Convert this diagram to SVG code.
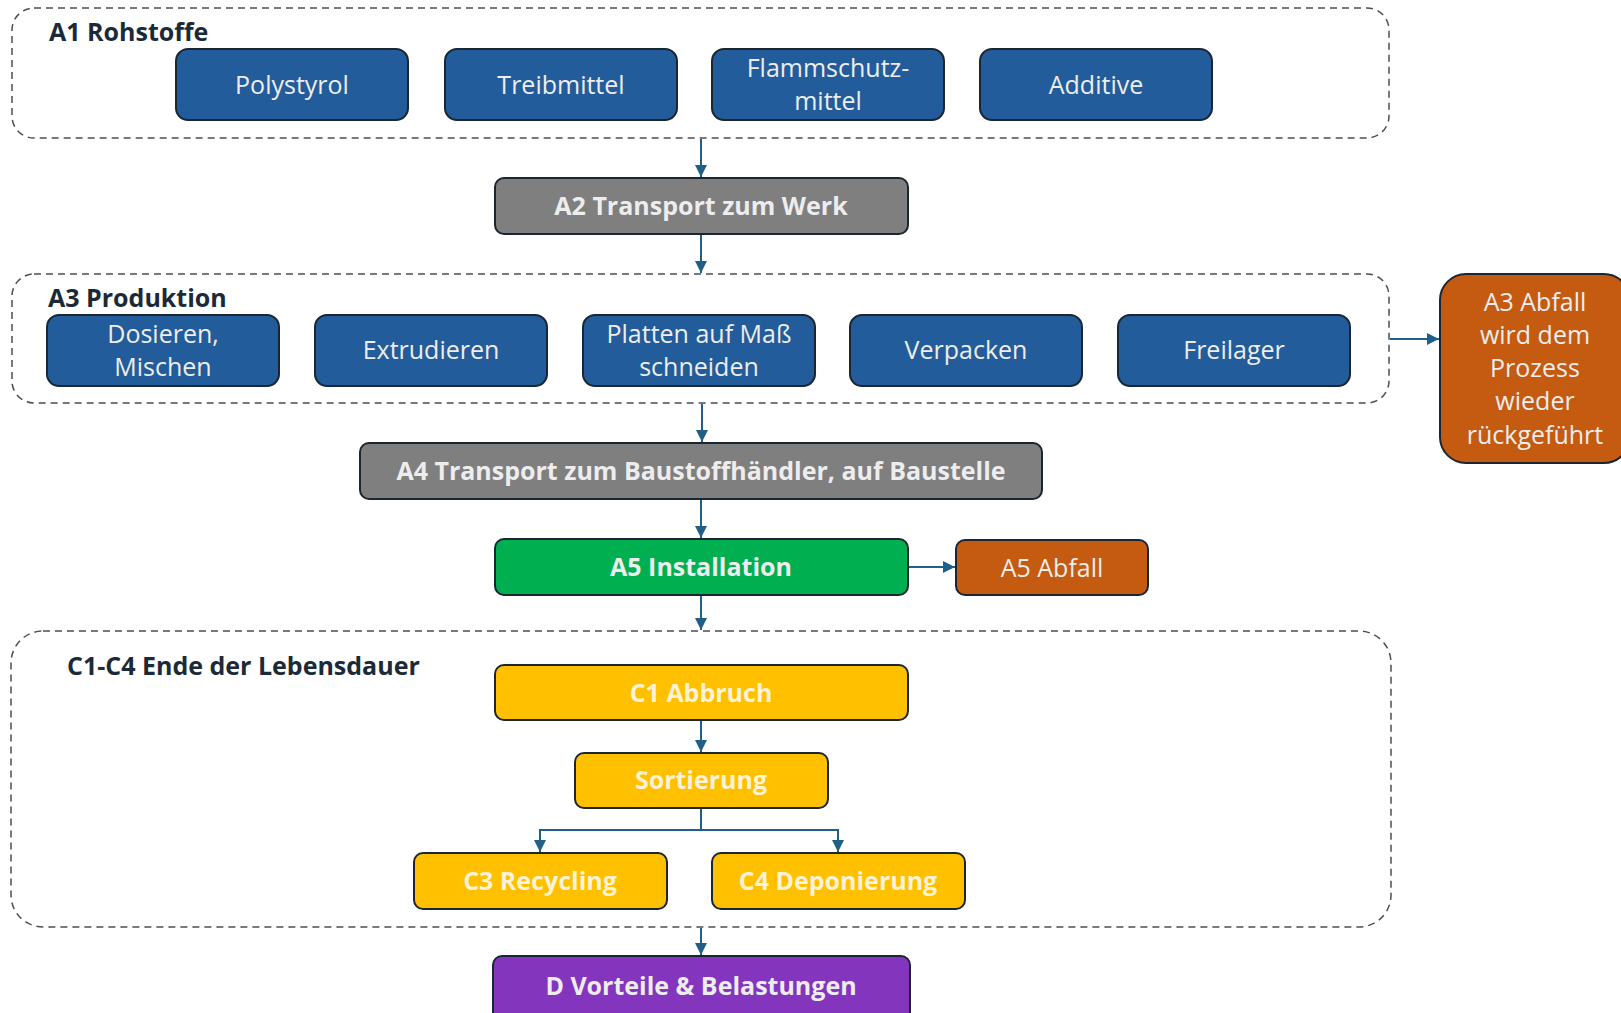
<svg xmlns="http://www.w3.org/2000/svg" width="1621" height="1013" viewBox="0 0 1621 1013">
  <defs>
    <marker id="arrow" viewBox="0 0 10 10" refX="10" refY="5" markerWidth="12" markerHeight="12" markerUnits="userSpaceOnUse" orient="auto">
      <path d="M0,0 L10,5 L0,10 z" fill="#1F5F88"/>
    </marker>
    <style>
      .group { fill: none; stroke: #4a4f55; stroke-width: 1.5; stroke-dasharray: 7 5; }
      .title { font-family: "Open Sans", "Noto Sans", sans-serif; font-weight: 700; font-size: 25px; fill: #1B2A38; }
      .box { stroke: #1A2733; stroke-width: 2; }
      .blue { fill: #235C9A; }
      .gray { fill: #7F7F7F; }
      .green { fill: #00B050; }
      .orange { fill: #C55A11; }
      .yellow { fill: #FFC000; }
      .purple { fill: #8435BE; }
      .lbl { font-family: "Open Sans", "Noto Sans", sans-serif; font-size: 25px; fill: #EDEDED; text-anchor: middle; }
      .bold { font-weight: 700; }
      .cream { fill: #FFF2D6; }
      .conn { fill: none; stroke: #1F5F88; stroke-width: 2; }
    </style>
  </defs>

  <!-- Stage containers -->
  <g id="group-a1">
    <rect class="group" x="12" y="8" width="1377" height="130" rx="22"/>
    <text class="title" x="49" y="41">A1 Rohstoffe</text>
  </g>
  <g id="group-a3">
    <rect class="group" x="12" y="274" width="1377" height="129" rx="22"/>
    <text class="title" x="48" y="307">A3 Produktion</text>
  </g>
  <g id="group-c">
    <rect class="group" x="11" y="631" width="1380" height="296" rx="32"/>
    <text class="title" x="67" y="675">C1-C4 Ende der Lebensdauer</text>
  </g>

  <!-- A1 raw materials -->
  <g id="polystyrol">
    <rect class="box blue" x="176" y="49" width="232" height="71" rx="12"/>
    <text class="lbl" x="292" y="94">Polystyrol</text>
  </g>
  <g id="treibmittel">
    <rect class="box blue" x="445" y="49" width="232" height="71" rx="12"/>
    <text class="lbl" x="561" y="94">Treibmittel</text>
  </g>
  <g id="flammschutzmittel">
    <rect class="box blue" x="712" y="49" width="232" height="71" rx="12"/>
    <text class="lbl" x="828" y="77">Flammschutz-</text>
    <text class="lbl" x="828" y="110">mittel</text>
  </g>
  <g id="additive">
    <rect class="box blue" x="980" y="49" width="232" height="71" rx="12"/>
    <text class="lbl" x="1096" y="94">Additive</text>
  </g>

  <!-- A2 -->
  <g id="a2">
    <rect class="box gray" x="495" y="178" width="413" height="56" rx="9"/>
    <text class="lbl bold" x="701" y="215">A2 Transport zum Werk</text>
  </g>

  <!-- A3 production steps -->
  <g id="dosieren">
    <rect class="box blue" x="47" y="315" width="232" height="71" rx="12"/>
    <text class="lbl" x="163" y="343">Dosieren,</text>
    <text class="lbl" x="163" y="376">Mischen</text>
  </g>
  <g id="extrudieren">
    <rect class="box blue" x="315" y="315" width="232" height="71" rx="12"/>
    <text class="lbl" x="431" y="359">Extrudieren</text>
  </g>
  <g id="platten">
    <rect class="box blue" x="583" y="315" width="232" height="71" rx="12"/>
    <text class="lbl" x="699" y="343">Platten auf Maß</text>
    <text class="lbl" x="699" y="376">schneiden</text>
  </g>
  <g id="verpacken">
    <rect class="box blue" x="850" y="315" width="232" height="71" rx="12"/>
    <text class="lbl" x="966" y="359">Verpacken</text>
  </g>
  <g id="freilager">
    <rect class="box blue" x="1118" y="315" width="232" height="71" rx="12"/>
    <text class="lbl" x="1234" y="359">Freilager</text>
  </g>

  <!-- A3 waste -->
  <g id="a3-abfall">
    <rect class="box orange" x="1440" y="274" width="190" height="189" rx="26"/>
    <text class="lbl" x="1535" y="311">A3 Abfall</text>
    <text class="lbl" x="1535" y="344">wird dem</text>
    <text class="lbl" x="1535" y="377">Prozess</text>
    <text class="lbl" x="1535" y="410">wieder</text>
    <text class="lbl" x="1535" y="444">rückgeführt</text>
  </g>

  <!-- A4 -->
  <g id="a4">
    <rect class="box gray" x="360" y="443" width="682" height="56" rx="9"/>
    <text class="lbl bold" x="701" y="480">A4 Transport zum Baustoffhändler, auf Baustelle</text>
  </g>

  <!-- A5 -->
  <g id="a5">
    <rect class="box green" x="495" y="539" width="413" height="56" rx="9"/>
    <text class="lbl bold" x="701" y="576">A5 Installation</text>
  </g>
  <g id="a5-abfall">
    <rect class="box orange" x="956" y="540" width="192" height="55" rx="9"/>
    <text class="lbl" x="1052" y="577">A5 Abfall</text>
  </g>

  <!-- C stages -->
  <g id="c1">
    <rect class="box yellow" x="495" y="665" width="413" height="55" rx="9"/>
    <text class="lbl bold cream" x="701" y="702">C1 Abbruch</text>
  </g>
  <g id="sortierung">
    <rect class="box yellow" x="575" y="753" width="253" height="55" rx="9"/>
    <text class="lbl bold cream" x="701" y="789">Sortierung</text>
  </g>
  <g id="c3">
    <rect class="box yellow" x="414" y="853" width="253" height="56" rx="9"/>
    <text class="lbl bold cream" x="540" y="890">C3 Recycling</text>
  </g>
  <g id="c4">
    <rect class="box yellow" x="712" y="853" width="253" height="56" rx="9"/>
    <text class="lbl bold cream" x="838" y="890">C4 Deponierung</text>
  </g>

  <!-- D -->
  <g id="d">
    <rect class="box purple" x="493" y="956" width="417" height="70" rx="9"/>
    <text class="lbl bold" x="701" y="995">D Vorteile &amp; Belastungen</text>
  </g>

  <!-- Connectors -->
  <g id="connectors">
    <line class="conn" x1="701" y1="139" x2="701" y2="177" marker-end="url(#arrow)"/>
    <line class="conn" x1="701" y1="235" x2="701" y2="273" marker-end="url(#arrow)"/>
    <line class="conn" x1="1390" y1="339" x2="1439" y2="339" marker-end="url(#arrow)"/>
    <line class="conn" x1="702" y1="404" x2="702" y2="442" marker-end="url(#arrow)"/>
    <line class="conn" x1="701" y1="500" x2="701" y2="538" marker-end="url(#arrow)"/>
    <line class="conn" x1="909" y1="567" x2="955" y2="567" marker-end="url(#arrow)"/>
    <line class="conn" x1="701" y1="596" x2="701" y2="630" marker-end="url(#arrow)"/>
    <line class="conn" x1="701" y1="721" x2="701" y2="752" marker-end="url(#arrow)"/>
    <polyline class="conn" points="701,809 701,830 540,830 540,852" marker-end="url(#arrow)"/>
    <polyline class="conn" points="701,830 838,830 838,852" marker-end="url(#arrow)"/>
    <line class="conn" x1="701" y1="928" x2="701" y2="955" marker-end="url(#arrow)"/>
  </g>
</svg>
